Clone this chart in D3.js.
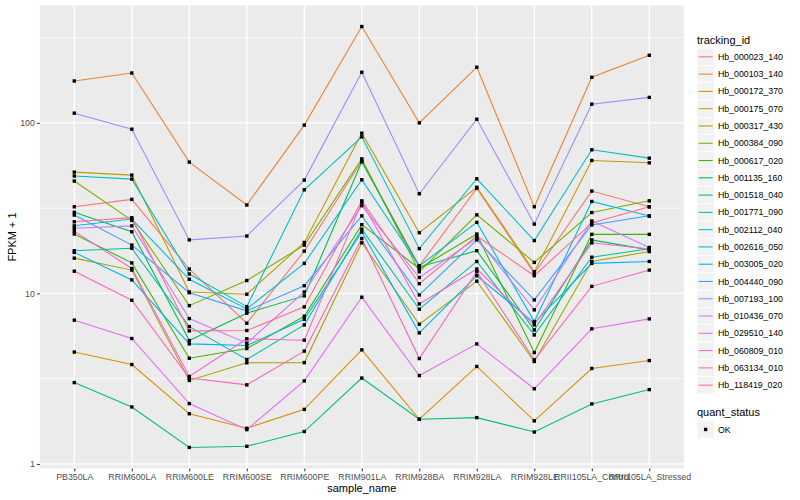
<!DOCTYPE html>
<html>
<head>
<meta charset="utf-8">
<script src="https://cdn.jsdelivr.net/npm/d3@7"></script>
<style>
  html, body { margin: 0; padding: 0; background: #fff; }
  svg { display: block; font-family: "Liberation Sans", Arial, Helvetica, sans-serif; }
</style>
</head>
<body>
<svg id="chart" width="800" height="500"></svg>
<script>
// ---- data ----
const categories = ["PB350LA","RRIM600LA","RRIM600LE","RRIM600SE","RRIM600PE","RRIM901LA","RRIM928BA","RRIM928LA","RRIM928LE","RRII105LA_Control","RRII105LA_Stressed"];

const trackingIds = ["Hb_000023_140","Hb_000103_140","Hb_000172_370","Hb_000175_070","Hb_000317_430","Hb_000384_090","Hb_000617_020","Hb_001135_160","Hb_001518_040","Hb_001771_090","Hb_002112_040","Hb_002616_050","Hb_003005_020","Hb_004440_090","Hb_007193_100","Hb_010436_070","Hb_029510_140","Hb_060809_010","Hb_063134_010","Hb_118419_020"];

const seriesColors = ["#F8766D","#EA8331","#D89000","#C09B00","#A3A500","#7CAE00","#39B600","#00BB4E","#00BF7D","#00C1A3","#00BFC4","#00BAE0","#00B0F6","#35A2FF","#9590FF","#C77CFF","#E76BF3","#FA62DB","#FF62BC","#FF6C91"];

// FPKM + 1 per sample (same order as categories)
const Hb_000023_140 = [32.2, 35.6, 13.9, 6.69, 17.7, 59.7, 14.5, 41.3, 13.1, 39.8, 32.2];
const Hb_000103_140 = [176, 196, 58.9, 33.0, 97, 367, 100, 212, 32.2, 185, 249];
const Hb_000172_370 = [4.53, 3.83, 1.97, 1.62, 2.09, 4.67, 1.83, 3.73, 1.79, 3.63, 4.04];
const Hb_000175_070 = [51.4, 49.4, 10.2, 9.89, 19.9, 87.0, 22.7, 41.9, 13.4, 60.2, 58.3];
const Hb_000317_430 = [16.1, 13.7, 3.09, 3.92, 3.93, 19.8, 6.60, 11.8, 3.99, 15.4, 17.6];
const Hb_000384_090 = [45.6, 26.8, 8.48, 11.9, 19.2, 61.5, 13.4, 28.9, 15.2, 29.8, 34.9];
const Hb_000617_020 = [22.3, 15.1, 4.17, 4.75, 7.35, 25.3, 14.0, 22.3, 4.50, 22.2, 22.2];
const Hb_001135_160 = [29.9, 23.0, 5.29, 7.66, 9.67, 59.1, 14.3, 17.8, 6.11, 20.6, 18.0];
const Hb_001518_040 = [3.0, 2.16, 1.25, 1.27, 1.55, 3.19, 1.83, 1.87, 1.54, 2.25, 2.73];
const Hb_001771_090 = [17.8, 18.4, 6.39, 4.10, 6.54, 23.8, 8.08, 15.4, 5.71, 16.3, 18.3];
const Hb_002112_040 = [48.8, 46.8, 13.0, 8.37, 40.5, 82.8, 18.3, 47.0, 20.4, 69.5, 62.1];
const Hb_002616_050 = [24.9, 27.3, 12.1, 8.11, 15.0, 46.4, 14.5, 26.1, 6.84, 34.6, 28.4];
const Hb_003005_020 = [17.4, 12.0, 5.06, 4.95, 7.06, 22.9, 5.87, 12.7, 6.72, 15.0, 15.4];
const Hb_004440_090 = [28.8, 19.2, 10.1, 7.90, 11.1, 28.5, 9.80, 20.6, 9.16, 25.2, 28.5];
const Hb_007193_100 = [114, 91.8, 20.6, 21.7, 46.2, 198, 38.4, 105, 25.5, 128.7, 141];
const Hb_010436_070 = [24.1, 24.9, 7.12, 5.11, 10.2, 32.7, 12.4, 21.1, 8.01, 26.6, 18.6];
const Hb_029510_140 = [6.97, 5.44, 2.26, 1.59, 3.07, 9.5, 3.3, 5.06, 2.76, 6.2, 7.09];
const Hb_060809_010 = [23.2, 14.0, 3.26, 5.42, 5.32, 34.3, 8.68, 13.9, 6.54, 19.8, 18.2];
const Hb_063134_010 = [13.5, 9.12, 3.19, 2.91, 4.59, 21.0, 4.15, 13.4, 4.08, 11.0, 13.7];
const Hb_118419_020 = [26.3, 27.8, 6.03, 6.06, 8.34, 34.9, 11.4, 21.7, 12.7, 25.9, 32.2];

const yTickValues = [1, 10, 100];
const yTickLabels = ["1", "10", "100"];
const quantStatus = ["OK"];

const seriesValues = [Hb_000023_140, Hb_000103_140, Hb_000172_370, Hb_000175_070, Hb_000317_430,
  Hb_000384_090, Hb_000617_020, Hb_001135_160, Hb_001518_040, Hb_001771_090, Hb_002112_040,
  Hb_002616_050, Hb_003005_020, Hb_004440_090, Hb_007193_100, Hb_010436_070, Hb_029510_140,
  Hb_060809_010, Hb_063134_010, Hb_118419_020];

// ---- layout ----
const svg = d3.select("#chart");
const panel = { left: 39.8, right: 683.8, top: 5.5, bottom: 468.5 };

const series = trackingIds.map((id, i) => ({
  id, color: seriesColors[i],
  points: categories.map((c, j) => ({ cat: c, value: seriesValues[i][j] }))
}));

const allVals = seriesValues.flat();
const lo = Math.log10(d3.min(allVals)), hi = Math.log10(d3.max(allVals));
const pad = (hi - lo) * 0.05;

const x = d3.scalePoint().domain(categories).range([panel.left, panel.right]).padding(0.6);
const y = d3.scaleLog().domain([Math.pow(10, lo - pad), Math.pow(10, hi + pad)]).range([panel.bottom, panel.top]);

// panel background
svg.append("rect").attr("x", panel.left).attr("y", panel.top)
  .attr("width", panel.right - panel.left).attr("height", panel.bottom - panel.top)
  .attr("fill", "#EBEBEB");

// minor grid (half decades)
const minor = [Math.pow(10, 0.5), Math.pow(10, 1.5), Math.pow(10, 2.5)].filter(v => v >= y.domain()[0] && v <= y.domain()[1]);
svg.append("g").selectAll("line").data(minor).join("line")
  .attr("x1", panel.left).attr("x2", panel.right)
  .attr("y1", d => y(d)).attr("y2", d => y(d))
  .attr("stroke", "#fff").attr("stroke-width", 0.7);

// major grid
svg.append("g").selectAll("line").data(yTickValues).join("line")
  .attr("x1", panel.left).attr("x2", panel.right)
  .attr("y1", d => y(d)).attr("y2", d => y(d))
  .attr("stroke", "#fff").attr("stroke-width", 1.4);
svg.append("g").selectAll("line").data(categories).join("line")
  .attr("x1", d => x(d)).attr("x2", d => x(d))
  .attr("y1", panel.top).attr("y2", panel.bottom)
  .attr("stroke", "#fff").attr("stroke-width", 1.4);

// lines
const line = d3.line().x(d => x(d.cat)).y(d => y(d.value));
svg.append("g").selectAll("path").data(series).join("path")
  .attr("d", d => line(d.points))
  .attr("fill", "none").attr("stroke", d => d.color).attr("stroke-width", 1.07);

// points
const ps = 3.4;
svg.append("g").selectAll("g").data(series).join("g")
  .selectAll("rect").data(d => d.points).join("rect")
  .attr("x", d => x(d.cat) - ps / 2).attr("y", d => y(d.value) - ps / 2)
  .attr("width", ps).attr("height", ps).attr("fill", "#000");

// axes
const yAxis = d3.axisLeft(y).tickValues(yTickValues).tickFormat((d, i) => yTickLabels[i]).tickSizeOuter(0).tickSize(2.75).tickPadding(2.2);
const gy = svg.append("g").attr("transform", `translate(${panel.left},0)`).call(yAxis);
gy.select(".domain").remove();
gy.selectAll("line").attr("stroke", "#333").attr("stroke-width", 1.07);
gy.selectAll("text").attr("fill", "#4D4D4D").style("font-size", "8.8px").style("font-family", "Liberation Sans, Arial, sans-serif");

const xAxis = d3.axisBottom(x).tickSizeOuter(0).tickSize(2.75).tickPadding(2.2);
const gx = svg.append("g").attr("transform", `translate(0,${panel.bottom})`).call(xAxis);
gx.select(".domain").remove();
gx.selectAll("line").attr("stroke", "#333").attr("stroke-width", 1.07);
gx.selectAll("text").attr("fill", "#4D4D4D").style("font-size", "8.8px").style("font-family", "Liberation Sans, Arial, sans-serif");

// axis titles
svg.append("text").attr("x", (panel.left + panel.right) / 2).attr("y", 492)
  .attr("text-anchor", "middle").style("font-size", "11px").attr("fill", "#000").text("sample_name");
svg.append("text").attr("transform", `translate(15.5,${(panel.top + panel.bottom) / 2}) rotate(-90)`)
  .attr("text-anchor", "middle").style("font-size", "11px").attr("fill", "#000").text("FPKM + 1");

// legend: tracking_id
const lx = 697, key = 17.28, ly0 = 48.2;
const leg = svg.append("g");
leg.append("text").attr("x", lx).attr("y", 44).style("font-size", "11px").attr("fill", "#000").text("tracking_id");
const items = leg.selectAll("g.item").data(series).join("g").attr("class", "item")
  .attr("transform", (d, i) => `translate(${lx},${ly0 + i * key})`);
items.append("rect").attr("width", key).attr("height", key).attr("fill", "#F2F2F2").attr("stroke", "#fff").attr("stroke-width", 0.7);
items.append("line").attr("x1", 1.7).attr("x2", key - 1.7).attr("y1", key / 2).attr("y2", key / 2)
  .attr("stroke", d => d.color).attr("stroke-width", 1.07);
items.append("text").attr("x", key + 2.8 + 0.8).attr("y", key / 2 + 3.1)
  .style("font-size", "8.8px").attr("fill", "#000").text(d => d.id);

// legend: quant_status
const qy = 420.8;
leg.append("text").attr("x", lx).attr("y", 416).style("font-size", "11px").attr("fill", "#000").text("quant_status");
const qItems = leg.selectAll("g.q").data(quantStatus).join("g").attr("class", "q")
  .attr("transform", (d, i) => `translate(${lx},${qy + i * key})`);
qItems.append("rect").attr("width", key).attr("height", key).attr("fill", "#F2F2F2").attr("stroke", "#fff").attr("stroke-width", 0.7);
qItems.append("rect").attr("x", key / 2 - ps / 2).attr("y", key / 2 - ps / 2).attr("width", ps).attr("height", ps).attr("fill", "#000");
qItems.append("text").attr("x", key + 3.6).attr("y", key / 2 + 3.1).style("font-size", "8.8px").attr("fill", "#000").text(d => d);
</script>
</body>
</html>
